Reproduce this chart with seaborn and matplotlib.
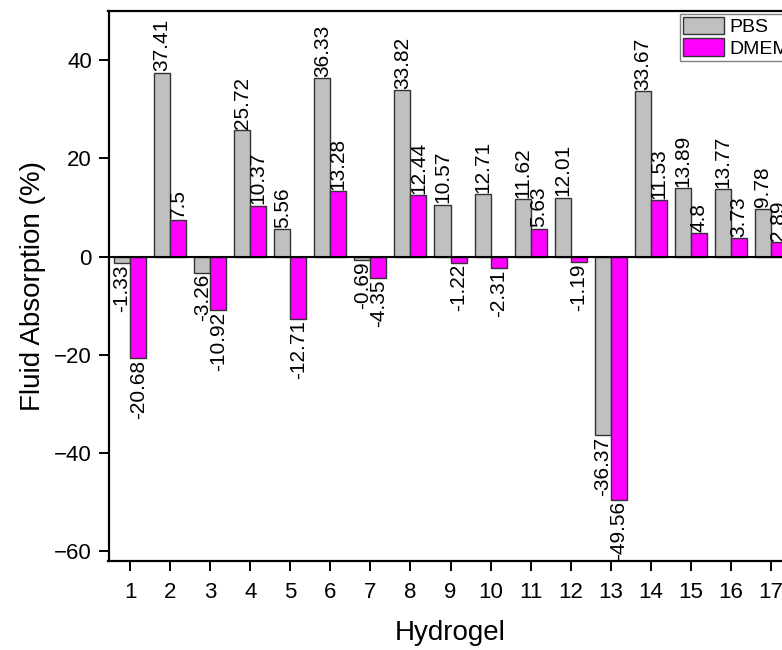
import matplotlib
matplotlib.use("Agg")
import matplotlib.pyplot as plt
import seaborn as sns
import pandas as pd

hydrogels = [str(i) for i in range(1, 18)]
pbs = [-1.33, 37.41, -3.26, 25.72, 5.56, 36.33, -0.69, 33.82, 10.57, 12.71,
       11.62, 12.01, -36.37, 33.67, 13.89, 13.77, 9.78]
dmem = [-20.68, 7.5, -10.92, 10.37, -12.71, 13.28, -4.35, 12.44, -1.22, -2.31,
        5.63, -1.19, -49.56, 11.53, 4.8, 3.73, 2.89]
series_names = ["PBS", "DMEM"]
y_ticks = [-60, -40, -20, 0, 20, 40]

df = pd.DataFrame({
    "Hydrogel": hydrogels * 2,
    "Value": pbs + dmem,
    "Medium": [series_names[0]] * len(pbs) + [series_names[1]] * len(dmem),
})

sns.set_theme(style="white")
plt.rcParams["font.family"] = ["Liberation Sans", "DejaVu Sans"]
plt.rcParams["axes.unicode_minus"] = True
plt.rcParams["text.color"] = "black"
plt.rcParams["axes.labelcolor"] = "black"

fig = plt.figure(figsize=(7.82, 6.5), dpi=100)
ax = fig.add_axes([108.5 / 782, 1 - 561 / 650, 684 / 782, 550 / 650])

sns.barplot(data=df, x="Hydrogel", y="Value", hue="Medium", order=hydrogels,
            hue_order=series_names, palette=["#C0C0C0", "#FF00FF"],
            width=0.8, edgecolor="#333333", linewidth=1.0, saturation=1,
            errorbar=None, ax=ax)

for cont in ax.containers:
    ax.bar_label(cont, fmt="%g", rotation=90, padding=1, fontsize=15,
                 color="black",
                 family=["Liberation Sans Narrow", "Liberation Sans"])

ax.axhline(0, color="black", lw=1.5, zorder=5)
ax.set_xlim(-0.54, 16.54)
ax.set_ylim(-62, 50)
ax.set_yticks(y_ticks)

for s in ax.spines.values():
    s.set_linewidth(1.6)
    s.set_color("black")

ax.tick_params(axis="both", direction="out", length=7, width=1.4,
               color="black", labelsize=16, labelcolor="black",
               bottom=True, left=True, top=False, right=False)
ax.tick_params(axis="x", pad=8)
ax.tick_params(axis="y", pad=5)
ax.set_xlabel("Hydrogel", fontsize=20, labelpad=12, color="black")
ax.set_ylabel("Fluid Absorption (%)", fontsize=20, labelpad=6, color="black")

ax.legend(loc="upper left", bbox_to_anchor=(680 / 782, 1 - 14 / 650),
          bbox_transform=fig.transFigure, fontsize=14, frameon=True,
          fancybox=False, shadow=False, edgecolor="#808080", framealpha=1,
          handlelength=2.1, handleheight=1.0, labelspacing=0.1,
          borderpad=0.15, borderaxespad=0, handletextpad=0.3)

fig.savefig("out.png", dpi=100)
